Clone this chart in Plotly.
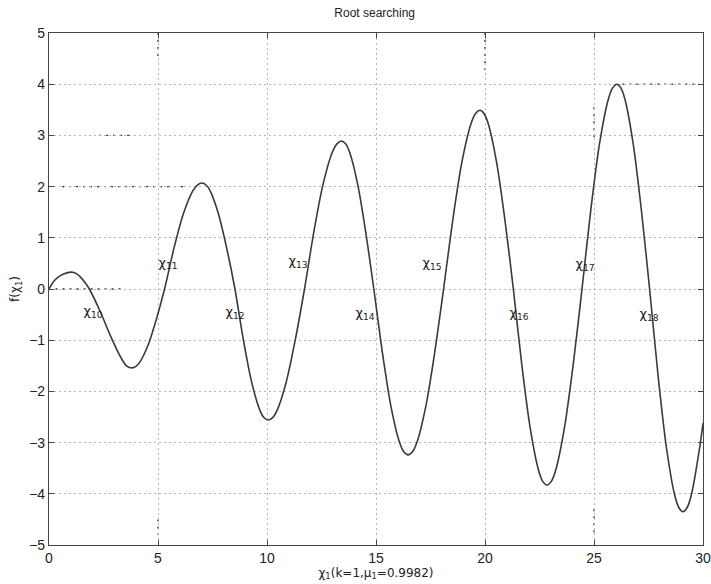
import plotly.graph_objects as go

# Curve values (roots, extrema and points along each quarter wave)
x_vals = [0.0, 0.26, 0.52, 0.78,
          1.04, 1.24, 1.445, 1.65,
          1.85, 2.34, 2.825, 3.31, 3.556,
          3.8, 3.988, 4.175, 4.55, 4.925,
          5.3, 5.73, 6.16, 6.59, 6.805,
          7.02, 7.209, 7.398, 7.775, 8.153,
          8.53, 8.91, 9.29, 9.67, 9.86,
          10.05, 10.259, 10.468, 10.885, 11.303,
          11.72, 12.145, 12.57, 12.995, 13.208,
          13.42, 13.605, 13.79, 14.16, 14.53,
          14.9, 15.293, 15.685, 16.078, 16.274,
          16.47, 16.674, 16.878, 17.285, 17.693,
          18.1, 18.518, 18.935, 19.353, 19.561,
          19.77, 19.961, 20.153, 20.535, 20.918,
          21.3, 21.685, 22.07, 22.455, 22.648,
          22.84, 23.041, 23.243, 23.645, 24.048,
          24.45, 24.85, 25.25, 25.65, 25.85,
          26.05, 26.238, 26.425, 26.8, 27.175,
          27.55, 27.933, 28.315, 28.698, 28.889,
          29.08, 29.274, 29.468, 29.855, 30.0]
y_vals = [0.0, 0.17, 0.26, 0.31,
          0.33, 0.305, 0.233, 0.126,
          0.0, -0.43, -0.92, -1.35, -1.5,
          -1.54, -1.511, -1.423, -1.089, -0.59,
          0.0, 0.793, 1.464, 1.912, 2.031,
          2.07, 2.031, 1.912, 1.464, 0.793,
          0.0, -0.98, -1.81, -2.365, -2.511,
          -2.56, -2.511, -2.365, -1.81, -0.98,
          0.0, 1.107, 2.043, 2.67, 2.835,
          2.89, 2.835, 2.67, 2.043, 1.107,
          0.0, -1.241, -2.291, -2.993, -3.178,
          -3.24, -3.178, -2.993, -2.291, -1.241,
          0.0, 1.337, 2.468, 3.224, 3.424,
          3.49, 3.424, 3.224, 2.468, 1.337,
          0.0, -1.467, -2.708, -3.539, -3.757,
          -3.83, -3.757, -3.539, -2.708, -1.467,
          0.0, 1.532, 2.828, 3.696, 3.924,
          4.0, 3.924, 3.696, 2.828, 1.532,
          0.0, -1.665, -3.076, -4.019, -4.267,
          -4.35, -4.267, -4.019, -3.076, -2.62]

# Root labels
label_names = ["χ<sub>10</sub>", "χ<sub>11</sub>", "χ<sub>12</sub>", "χ<sub>13</sub>",
               "χ<sub>14</sub>", "χ<sub>15</sub>", "χ<sub>16</sub>", "χ<sub>17</sub>",
               "χ<sub>18</sub>"]
label_x = [2.02, 5.46, 8.53, 11.42, 14.5, 17.57, 21.56, 24.59, 27.52]
label_y = [-0.45, 0.5, -0.47, 0.53, -0.49, 0.49, -0.49, 0.47, -0.51]

x_ticks = [0, 5, 10, 15, 20, 25, 30]
y_ticks = [-5, -4, -3, -2, -1, 0, 1, 2, 3, 4, 5]

# darker dotted grid fragments visible in the scan: (x0, y0, x1, y1)
dark_segments = [(0.3, 0, 3.5, 0), (0.6, 2, 6.3, 2), (2.3, 3, 3.7, 3), (26.3, 4, 29.7, 4),
                 (20, 5, 20, 4.27), (5, 5, 5, 4.45), (25, 3.55, 25, 2.9),
                 (25, -4.3, 25, -4.85), (5, -4.5, 5, -4.8)]

font_main = "Liberation Sans, Arial, sans-serif"
font_greek = "DejaVu Sans, Liberation Sans, sans-serif"

fig = go.Figure()
for (a, b, c, d) in dark_segments:
    fig.add_shape(type="line", x0=a, y0=b, x1=c, y1=d, xref="x", yref="y",
                  line=dict(color="#333", width=1.3, dash="2px,5px"), layer="below")

fig.add_trace(go.Scatter(x=x_vals, y=y_vals, mode="lines",
                         line=dict(color="#3a3a3a", width=1.6, shape="spline", smoothing=0.8),
                         hoverinfo="skip", showlegend=False))
fig.add_trace(go.Scatter(x=label_x, y=label_y, mode="text", text=label_names,
                         textfont=dict(family=font_greek, size=13, color="#222"),
                         textposition="middle center", showlegend=False, hoverinfo="skip"))

axis_common = dict(showline=True, linecolor="#444", linewidth=1.2, mirror="ticks",
                   ticks="inside", ticklen=5, tickcolor="#444",
                   showgrid=True, gridcolor="#b4b4b4", griddash="2px,3px", gridwidth=1,
                   zeroline=False, automargin=False,
                   tickfont=dict(family=font_main, size=14, color="#222"))

fig.update_layout(
    width=711, height=584,
    margin=dict(l=49, r=8, t=33, b=39),
    paper_bgcolor="white", plot_bgcolor="white",
    title=dict(text="Root searching", x=0.527, xanchor="center", y=0.985, yanchor="top",
               font=dict(family=font_main, size=12, color="#222")),
    xaxis=dict(range=[0, 30], tickvals=x_ticks, ticktext=[str(v) for v in x_ticks],
               title=dict(text="χ<sub>1</sub>(k=1,μ<sub>1</sub>=0.9982)", standoff=0,
                          font=dict(family=font_greek, size=12, color="#222")),
               **axis_common),
    yaxis=dict(range=[-5, 5], tickvals=y_ticks,
               ticktext=[("−" + str(-v)) if v < 0 else str(v) for v in y_ticks],
               title=dict(text="f(χ<sub>1</sub>)", standoff=6,
                          font=dict(family=font_greek, size=12, color="#222")),
               **axis_common),
)

fig.write_html("out.html")
